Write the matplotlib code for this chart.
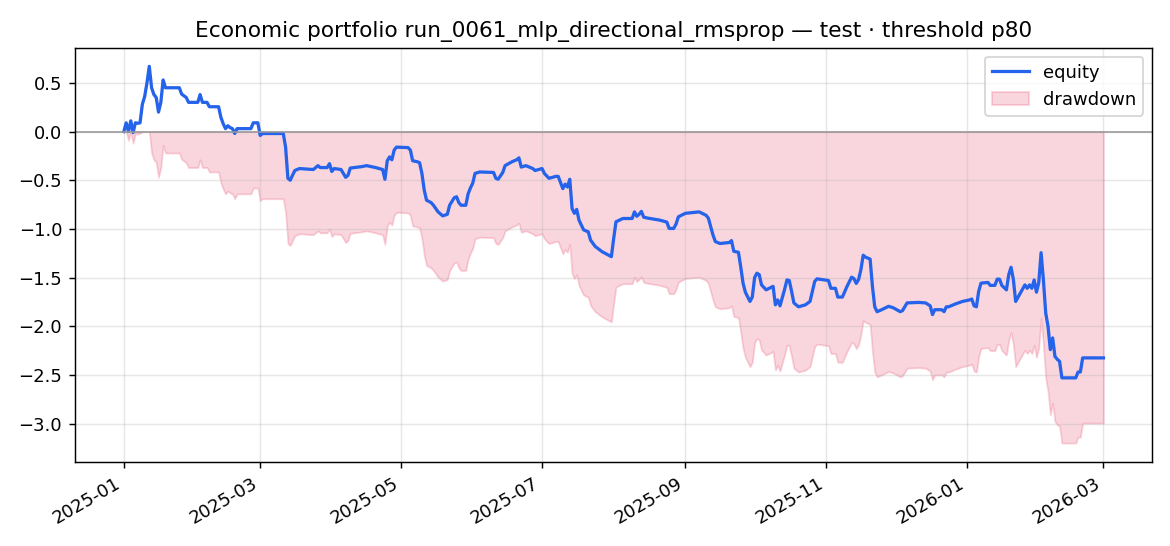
import matplotlib
matplotlib.use("Agg")
import matplotlib.pyplot as plt
import pandas as pd
import numpy as np

dates = [
    "2025-01-01", "2025-01-02", "2025-01-03", "2025-01-04", "2025-01-05", "2025-01-06", "2025-01-07",
    "2025-01-08", "2025-01-09", "2025-01-10", "2025-01-11", "2025-01-12", "2025-01-13", "2025-01-14",
    "2025-01-15", "2025-01-16", "2025-01-17", "2025-01-18", "2025-01-19", "2025-01-25", "2025-01-26",
    "2025-01-28", "2025-01-29",
    "2025-02-02", "2025-02-03", "2025-02-04", "2025-02-06", "2025-02-07", "2025-02-11", "2025-02-12",
    "2025-02-13", "2025-02-14", "2025-02-15", "2025-02-16", "2025-02-17", "2025-02-18", "2025-02-19",
    "2025-02-25", "2025-02-26", "2025-02-28",
    "2025-03-01", "2025-03-02", "2025-03-11", "2025-03-12", "2025-03-13", "2025-03-14", "2025-03-15",
    "2025-03-16", "2025-03-18", "2025-03-24", "2025-03-26", "2025-03-27", "2025-03-30", "2025-03-31",
    "2025-04-01", "2025-04-02", "2025-04-05", "2025-04-07", "2025-04-08", "2025-04-09", "2025-04-14",
    "2025-04-16", "2025-04-20", "2025-04-23", "2025-04-24", "2025-04-25", "2025-04-26", "2025-04-27",
    "2025-04-28", "2025-04-29",
    "2025-05-04", "2025-05-05", "2025-05-06", "2025-05-08", "2025-05-09", "2025-05-10", "2025-05-11",
    "2025-05-12", "2025-05-14", "2025-05-15", "2025-05-17", "2025-05-19", "2025-05-21", "2025-05-22",
    "2025-05-24", "2025-05-25", "2025-05-26", "2025-05-27", "2025-05-29", "2025-05-30", "2025-05-31",
    "2025-06-01", "2025-06-02", "2025-06-04", "2025-06-10", "2025-06-11", "2025-06-12", "2025-06-14",
    "2025-06-15", "2025-06-18", "2025-06-20", "2025-06-21", "2025-06-22", "2025-06-24", "2025-06-27",
    "2025-06-28",
    "2025-07-01", "2025-07-02", "2025-07-04", "2025-07-07", "2025-07-08", "2025-07-10", "2025-07-11",
    "2025-07-12", "2025-07-13", "2025-07-14", "2025-07-15", "2025-07-16", "2025-07-17", "2025-07-19",
    "2025-07-21", "2025-07-22", "2025-07-24", "2025-07-27", "2025-07-31",
    "2025-08-01", "2025-08-02", "2025-08-05", "2025-08-09", "2025-08-10", "2025-08-11", "2025-08-12",
    "2025-08-13", "2025-08-14", "2025-08-16", "2025-08-21", "2025-08-24", "2025-08-25", "2025-08-27",
    "2025-08-28", "2025-08-29",
    "2025-09-01", "2025-09-07", "2025-09-10", "2025-09-11", "2025-09-13", "2025-09-14", "2025-09-16",
    "2025-09-20", "2025-09-21", "2025-09-22", "2025-09-24", "2025-09-25", "2025-09-26", "2025-09-27",
    "2025-09-29", "2025-09-30",
    "2025-10-01", "2025-10-02", "2025-10-03", "2025-10-04", "2025-10-06", "2025-10-09", "2025-10-10",
    "2025-10-11", "2025-10-12", "2025-10-14", "2025-10-15", "2025-10-16", "2025-10-17", "2025-10-18",
    "2025-10-20", "2025-10-23", "2025-10-25", "2025-10-27", "2025-10-28",
    "2025-11-02", "2025-11-03", "2025-11-05", "2025-11-06", "2025-11-08", "2025-11-10", "2025-11-12",
    "2025-11-13", "2025-11-14", "2025-11-15", "2025-11-16", "2025-11-17", "2025-11-18", "2025-11-20",
    "2025-11-21", "2025-11-22", "2025-11-23", "2025-11-25", "2025-11-28", "2025-11-30",
    "2025-12-03", "2025-12-04", "2025-12-06", "2025-12-11", "2025-12-14", "2025-12-16", "2025-12-17",
    "2025-12-18", "2025-12-21", "2025-12-22", "2025-12-23", "2025-12-24", "2025-12-27", "2025-12-30",
    "2026-01-02", "2026-01-03", "2026-01-04", "2026-01-05", "2026-01-06", "2026-01-07", "2026-01-10",
    "2026-01-11", "2026-01-13", "2026-01-14", "2026-01-15", "2026-01-16", "2026-01-18", "2026-01-19",
    "2026-01-20", "2026-01-21", "2026-01-22", "2026-01-24", "2026-01-26", "2026-01-27", "2026-01-28",
    "2026-01-29", "2026-01-30", "2026-01-31",
    "2026-02-01", "2026-02-02", "2026-02-03", "2026-02-04", "2026-02-05", "2026-02-06", "2026-02-07",
    "2026-02-08", "2026-02-09", "2026-02-10", "2026-02-11", "2026-02-17", "2026-02-18", "2026-02-19",
    "2026-02-20", "2026-03-01",
]

equity = [
    0.00, 0.09, 0.00, 0.11, -0.01, 0.09, 0.085,
    0.09, 0.28, 0.36, 0.50, 0.67, 0.45, 0.38,
    0.35, 0.20, 0.30, 0.53, 0.45, 0.45, 0.385,
    0.35, 0.30,
    0.30, 0.38, 0.30, 0.30, 0.255, 0.255, 0.146,
    0.08, 0.03, 0.06, 0.04, 0.03, -0.02, 0.03,
    0.03, 0.09, 0.09,
    -0.04, -0.02, -0.02, -0.16, -0.48, -0.50, -0.45,
    -0.40, -0.38, -0.39, -0.35, -0.37, -0.37, -0.33,
    -0.41, -0.38, -0.39, -0.47, -0.45, -0.375, -0.36,
    -0.35, -0.37, -0.39, -0.49, -0.30, -0.26, -0.29,
    -0.19, -0.16,
    -0.165, -0.19, -0.30, -0.31, -0.32, -0.43, -0.60,
    -0.705, -0.73, -0.757, -0.825, -0.866, -0.85, -0.757,
    -0.68, -0.67, -0.73, -0.757, -0.757, -0.64, -0.58,
    -0.53, -0.43, -0.415, -0.42, -0.48, -0.49, -0.42,
    -0.35, -0.31, -0.29, -0.27, -0.365, -0.35, -0.38,
    -0.40,
    -0.38, -0.43, -0.48, -0.46, -0.46, -0.586, -0.54,
    -0.57, -0.49, -0.79, -0.84, -0.80, -0.91, -1.01,
    -1.03, -1.115, -1.18, -1.234, -1.285,
    -1.10, -0.927, -0.893, -0.893, -0.825, -0.87, -0.85,
    -0.82, -0.88, -0.89, -0.91, -0.93, -0.995, -0.995,
    -0.95, -0.876,
    -0.84, -0.825, -0.86, -0.89, -1.063, -1.13, -1.15,
    -1.14, -1.12, -1.23, -1.24, -1.39, -1.557, -1.65,
    -1.745, -1.70,
    -1.50, -1.455, -1.47, -1.575, -1.626, -1.59, -1.78,
    -1.73, -1.79, -1.62, -1.524, -1.53, -1.64, -1.76,
    -1.80, -1.78, -1.745, -1.54, -1.513,
    -1.53, -1.61, -1.61, -1.70, -1.70, -1.59, -1.496,
    -1.51, -1.56, -1.52, -1.42, -1.27, -1.29, -1.31,
    -1.59, -1.80, -1.85, -1.83, -1.795, -1.81,
    -1.85, -1.84, -1.76, -1.755, -1.76, -1.79, -1.88,
    -1.83, -1.83, -1.85, -1.80, -1.80, -1.77, -1.745,
    -1.73, -1.72, -1.79, -1.80, -1.64, -1.557, -1.55,
    -1.58, -1.58, -1.516, -1.516, -1.58, -1.626, -1.47,
    -1.394, -1.52, -1.745, -1.66, -1.575, -1.61, -1.575,
    -1.61, -1.524, -1.65,
    -1.55, -1.244, -1.524, -1.864, -2.00, -2.24, -2.12,
    -2.31, -2.34, -2.36, -2.53, -2.53, -2.47, -2.47,
    -2.325, -2.325,
]

title = "Economic portfolio run_0061_mlp_directional_rmsprop \u2014 test \u00b7 threshold p80"

s = pd.Series(equity, index=pd.to_datetime(dates))
drawdown = s - s.cummax()

fig, ax = plt.subplots(figsize=(9.0, 4.2), dpi=130)

ax.plot(s.index, s.values, color="#2563eb", lw=1.8, label="equity")
ax.fill_between(drawdown.index, drawdown.values, 0, color="#e11d48", alpha=0.18, label="drawdown")
ax.axhline(0, color="#999999", lw=0.9)
ax.grid(True, alpha=0.3)
ax.set_title(title)
ax.legend(loc="upper right")
fig.autofmt_xdate()
fig.subplots_adjust(left=0.064, right=0.985, top=0.913, bottom=0.154)

fig.savefig("out.png", dpi=130)
